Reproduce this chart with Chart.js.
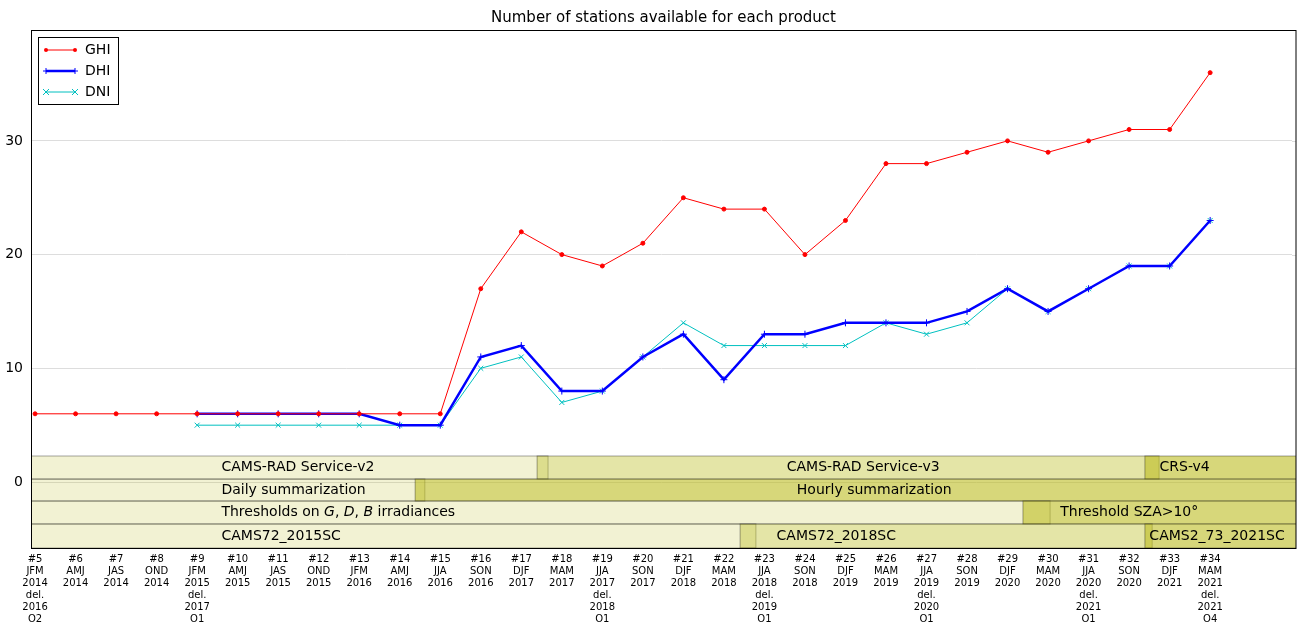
<!DOCTYPE html>
<html><head><meta charset="utf-8">
<script src="https://cdn.jsdelivr.net/npm/chart.js@4/dist/chart.umd.min.js"></script>
<style>html,body{margin:0;padding:0;background:#fff;overflow:hidden}canvas{display:block}</style>
</head><body><canvas id="c" width="1297" height="625" style="width:1297px;height:625px"></canvas>
<script>
const categories = [
 ["#5","JFM","2014","del.","2016","O2"],["#6","AMJ","2014"],["#7","JAS","2014"],["#8","OND","2014"],
 ["#9","JFM","2015","del.","2017","O1"],["#10","AMJ","2015"],["#11","JAS","2015"],["#12","OND","2015"],
 ["#13","JFM","2016"],["#14","AMJ","2016"],["#15","JJA","2016"],["#16","SON","2016"],["#17","DJF","2017"],
 ["#18","MAM","2017"],["#19","JJA","2017","del.","2018","O1"],["#20","SON","2017"],["#21","DJF","2018"],
 ["#22","MAM","2018"],["#23","JJA","2018","del.","2019","O1"],["#24","SON","2018"],["#25","DJF","2019"],
 ["#26","MAM","2019"],["#27","JJA","2019","del.","2020","O1"],["#28","SON","2019"],["#29","DJF","2020"],
 ["#30","MAM","2020"],["#31","JJA","2020","del.","2021","O1"],["#32","SON","2020"],["#33","DJF","2021"],
 ["#34","MAM","2021","del.","2021","O4"]];
const ghi = [6,6,6,6,6,6,6,6,6,6,6,17,22,20,19,21,25,24,24,20,23,28,28,29,30,29,30,31,31,36];
const dhi = [null,null,null,null,6,6,6,6,6,5,5,11,12,8,8,11,13,9,13,13,14,14,14,15,17,15,17,19,19,23];
const dni = [null,null,null,null,5,5,5,5,5,5,5,10,11,7,8,11,14,12,12,12,12,14,13,14,17,15,17,19,19,23];
const yTicks = [0,10,20,30];
// product bands: [row, xStart, xEnd, alpha, label, labelX]
const bands = [
 [0,-1,12.66,0.2,"CAMS-RAD Service-v2",4.6],
 [0,12.39,27.74,0.4,"CAMS-RAD Service-v3",18.55],
 [0,27.39,40,0.6,"CRS-v4",27.75],
 [1,-1,9.62,0.2,"Daily summarization",4.6],
 [1,9.38,40,0.6,"Hourly summarization",18.8],
 [2,-1,25.05,0.2,"Thresholds on |G|, |D|, |B| irradiances",4.6],
 [2,24.38,40,0.6,"Threshold SZA>10°",25.3],
 [3,-1,17.79,0.2,"CAMS72_2015SC",4.6],
 [3,17.4,27.57,0.4,"CAMS72_2018SC",18.3],
 [3,27.39,40,0.6,"CAMS2_73_2021SC",27.5]];
const rowY = [[2.29,0.26],[0.26,-1.67],[-1.67,-3.69],[-3.69,-5.8]];

const pts = a => a.map((v,i)=>({x:i,y:v}));
const F = "'DejaVu Sans', sans-serif";

const bandPlugin = {id:'bands', beforeDatasetsDraw(ch){
  const {ctx,chartArea:a,scales:{x,y}} = ch;
  const R = ch.width-1;
  ctx.save();
  // extend grid lines to true right edge
  ctx.strokeStyle='#dddddd'; ctx.lineWidth=1;
  yTicks.forEach(v=>{const py=Math.round(y.getPixelForValue(v))+0.5; ctx.beginPath(); ctx.moveTo(a.right,py); ctx.lineTo(R,py); ctx.stroke();});
  ctx.beginPath(); ctx.rect(a.left,a.top,R-a.left,a.bottom-a.top); ctx.clip();
  for(const b of bands){
    const x0=x.getPixelForValue(b[1]), x1=x.getPixelForValue(b[2]);
    const y0=y.getPixelForValue(rowY[b[0]][0]), y1=y.getPixelForValue(rowY[b[0]][1]);
    ctx.fillStyle=`rgba(188,189,34,${b[3]})`; ctx.fillRect(x0,y0,x1-x0,y1-y0);
    ctx.strokeStyle='rgba(0,0,0,0.35)'; ctx.lineWidth=1; ctx.strokeRect(x0,y0,x1-x0,y1-y0);
  }
  ctx.fillStyle='#000'; ctx.textBaseline='middle';
  for(const b of bands){
    let px=x.getPixelForValue(b[5]);
    const py=(y.getPixelForValue(rowY[b[0]][0])+y.getPixelForValue(rowY[b[0]][1]))/2;
    const parts=b[4].split('|');
    parts.forEach((p,i)=>{ ctx.font=(i%2?'italic ':'')+'14px '+F; ctx.fillText(p,px,py); px+=ctx.measureText(p).width; });
  }
  ctx.restore();
}, afterDraw(ch){
  const {ctx,chartArea:a} = ch;
  const R = ch.width-1;
  ctx.save();
  ctx.fillStyle='#000'; ctx.font='15px '+F; ctx.textAlign='center'; ctx.textBaseline='alphabetic';
  ctx.fillText('Number of stations available for each product',(a.left+R)/2,22);
  ctx.strokeStyle='#000'; ctx.lineWidth=1; ctx.strokeRect(a.left+0.5,a.top+0.5,R-a.left-0.5,a.bottom-a.top);
  // legend
  const lx=a.left+7, ly=a.top+7;
  ctx.fillStyle='#fff'; ctx.fillRect(lx,ly,80,67); ctx.strokeRect(lx+0.5,ly+0.5,80,67);
  const items=[['GHI','red',1,'circle'],['DHI','blue',2.5,'cross'],['DNI','#00c0c0',1,'crossRot']];
  items.forEach((it,i)=>{
    const yy=ly+13+i*21;
    ctx.strokeStyle=it[1]; ctx.lineWidth=it[2]; ctx.beginPath(); ctx.moveTo(lx+8,yy); ctx.lineTo(lx+37,yy); ctx.stroke();
    ctx.lineWidth=1;
    [lx+8,lx+37].forEach(mx=>{
      ctx.beginPath();
      if(it[3]==='circle'){ctx.fillStyle=it[1];ctx.arc(mx,yy,2,0,7);ctx.fill();}
      else if(it[3]==='cross'){ctx.moveTo(mx-3,yy);ctx.lineTo(mx+3,yy);ctx.moveTo(mx,yy-3);ctx.lineTo(mx,yy+3);ctx.stroke();}
      else {ctx.moveTo(mx-3,yy-3);ctx.lineTo(mx+3,yy+3);ctx.moveTo(mx+3,yy-3);ctx.lineTo(mx-3,yy+3);ctx.stroke();}
    });
    ctx.fillStyle='#000'; ctx.font='14px '+F; ctx.textAlign='left'; ctx.textBaseline='middle';
    ctx.fillText(it[0],lx+47,yy);
  });
  ctx.restore();
}};

new Chart(document.getElementById('c'),{
  type:'line',
  data:{datasets:[
    {label:'GHI',data:pts(ghi),borderColor:'red',backgroundColor:'red',borderWidth:1,pointStyle:'circle',pointRadius:2,pointHoverRadius:2},
    {label:'DHI',data:pts(dhi),borderColor:'blue',backgroundColor:'blue',borderWidth:2.5,pointStyle:'cross',pointRadius:3.5,pointBorderWidth:1},
    {label:'DNI',data:pts(dni),borderColor:'#00c0c0',backgroundColor:'#00c0c0',borderWidth:1,pointStyle:'crossRot',pointRadius:3.5,pointBorderWidth:1}
  ]},
  options:{responsive:false,animation:false,devicePixelRatio:1,
    layout:{padding:{top:30,right:0,left:0,bottom:0}},
    plugins:{legend:{display:false},tooltip:{enabled:false}},
    scales:{
      x:{type:'linear',min:-0.1,max:31.02,
        afterBuildTicks:s=>{s.ticks=categories.map((c,i)=>({value:i}));},
        afterFit:s=>{s.height=77;s.paddingRight=0;s.paddingLeft=0;},
        grid:{display:false,drawTicks:true,tickLength:5,color:'#000'},border:{display:false},
        ticks:{autoSkip:false,maxRotation:0,padding:0,color:'#000',font:{family:F,size:10},callback:(v)=>categories[v]||''}},
      y:{min:-5.8,max:39.75,
        afterBuildTicks:s=>{s.ticks=yTicks.map(v=>({value:v}));},
        afterFit:s=>{s.width=31;},
        grid:{color:'#dddddd',drawTicks:false},border:{display:false},
        ticks:{color:'#000',font:{family:F,size:14},padding:8}}
    }},
  plugins:[bandPlugin]
});
</script></body></html>
